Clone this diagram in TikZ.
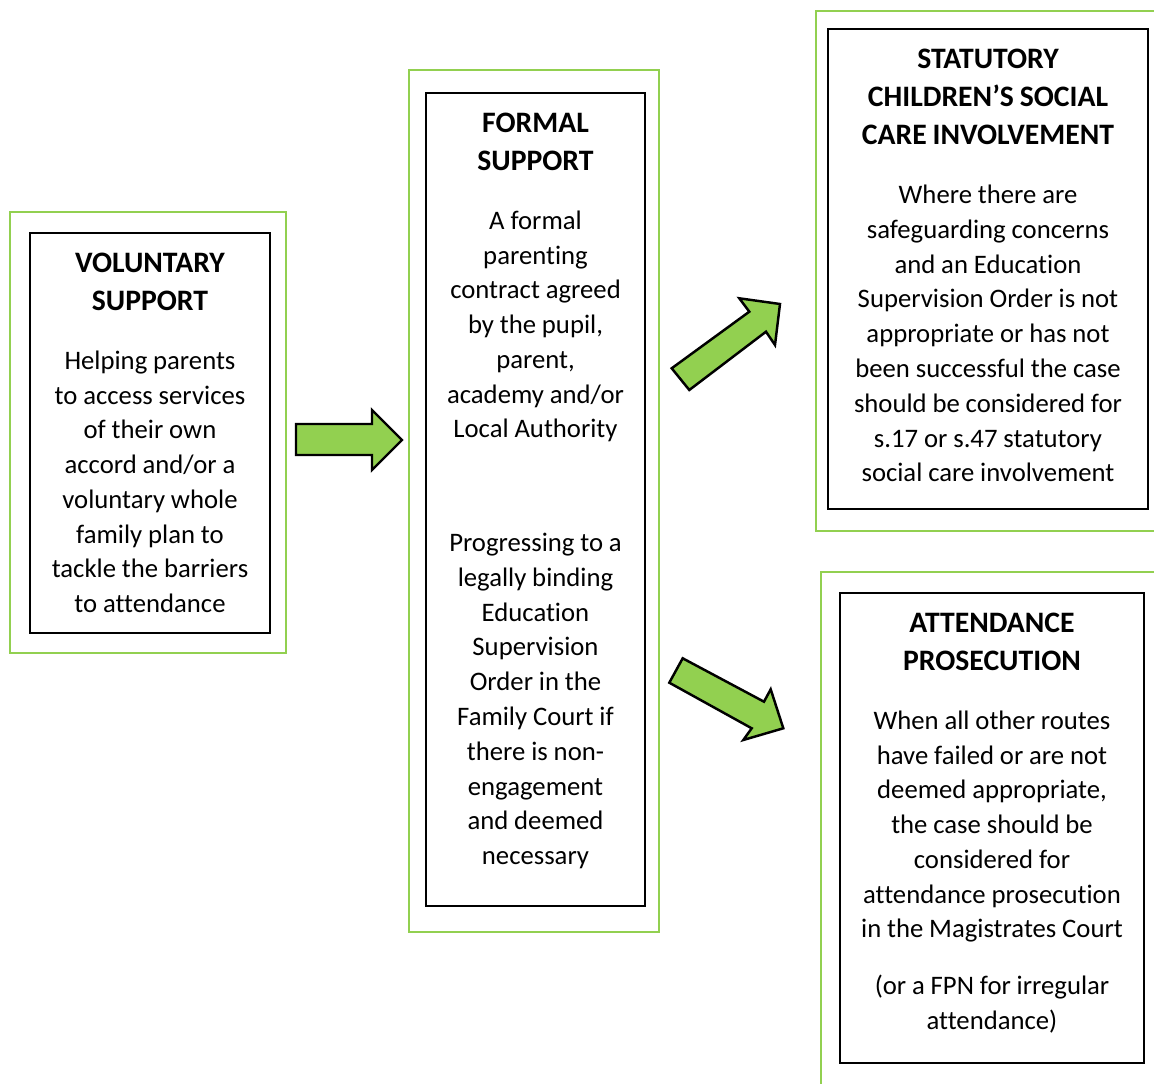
\documentclass[tikz,border=0pt]{standalone}
\usepackage{fontspec}
\setmainfont[Ligatures=NoCommon]{Carlito}
\usepackage{tikz}
\usetikzlibrary{fit, positioning}
\definecolor{frgreen}{RGB}{146, 208, 80}
\newcommand{\titlefont}{\fontsize{16.9}{21.8}\selectfont\bfseries}
\newcommand{\bodyfont}{\fontsize{15.2}{19.8}\selectfont\normalfont}
\tikzset{
    greenframe/.style={draw=frgreen, line width=1.7pt, inner sep=0pt},
    textbox/.style={draw=black, line width=0.8pt, inner sep=0pt},
    boxtext/.style={inner sep=0pt, align=center, text width=#1},
    blockarrow/.style={draw=black, line width=1.4pt, fill=frgreen, line join=miter}
}

\begin{document}
\begin{tikzpicture}[x=0.02cm, y=-0.02cm]
    \clip (0,0) rectangle (1154,1084);

    % outer frames
    \node[greenframe, fit={(10,212) (286,653)}] (volframe) {};
    \node[greenframe, fit={(409,70) (659,932)}] (forframe) {};
    \node[greenframe, fit={(816,11) (1180,531)}] (statframe) {};
    \node[greenframe, fit={(821,572) (1180,1110)}] (prosframe) {};

    % inner boxes
    \node[textbox, fit={(30,233) (270,633)}] (volbox) {};
    \node[textbox, fit={(426,93) (645,906)}] (forbox) {};
    \node[textbox, fit={(828,29) (1148,509)}] (statbox) {};
    \node[textbox, fit={(840,593) (1144,1063)}] (prosbox) {};

    % texts
    \node[boxtext=4.6cm, below=0.4cm of volbox.north] (voltext) {%
        \titlefont VOLUNTARY\\ SUPPORT\par\vspace{13.7pt}
        \bodyfont Helping parents\\ to access services\\ of their own\\
        accord and/or a\\ voluntary whole\\ family plan to\\
        tackle the barriers\\ to attendance\par};
    \node[boxtext=4.2cm, below=0.4cm of forbox.north] (fortext) {%
        \titlefont FORMAL\\ SUPPORT\par\vspace{13.7pt}
        \bodyfont A formal\\ parenting\\ contract agreed\\ by the pupil,\\
        parent,\\ academy and/or\\ Local Authority\par\vspace{44.8pt}
        Progressing to a\\ legally binding\\ Education\\ Supervision\\
        Order in the\\ Family Court if\\ there is non-\\ engagement\\
        and deemed\\ necessary\par};
    \node[boxtext=6.2cm, below=0.4cm of statbox.north] (stattext) {%
        \titlefont STATUTORY\\ CHILDREN’S SOCIAL\\ CARE INVOLVEMENT\par\vspace{13.7pt}
        \bodyfont Where there are\\ safeguarding concerns\\ and an Education\\
        Supervision Order is not\\ appropriate or has not\\
        been successful the case\\ should be considered for\\
        s.17 or s.47 statutory\\ social care involvement\par};
    \node[boxtext=5.9cm, below=0.4cm of prosbox.north] (prostext) {%
        \titlefont ATTENDANCE\\ PROSECUTION\par\vspace{13.7pt}
        \bodyfont When all other routes\\ have failed or are not\\
        deemed appropriate,\\ the case should be\\ considered for\\
        attendance prosecution\\ in the Magistrates Court\par\vspace{12.5pt}
        (or a FPN for irregular\\ attendance)\par};

    % block arrows
    \draw[blockarrow] (296,424) -- (372,424) -- (372,410) -- (402,440)
        -- (372,470) -- (372,455) -- (296,455) -- cycle;
    \draw[blockarrow] (671.7,368.3) -- (749.3,311.7) -- (739.3,298.3) -- (780,304)
        -- (775,345) -- (766,331.7) -- (689.3,390) -- cycle;
    \draw[blockarrow] (682.7,658.3) -- (764,701.7) -- (770.7,689.3) -- (783.3,728.3)
        -- (743.3,740) -- (751.7,728.3) -- (669.3,682.7) -- cycle;
\end{tikzpicture}
\end{document}
